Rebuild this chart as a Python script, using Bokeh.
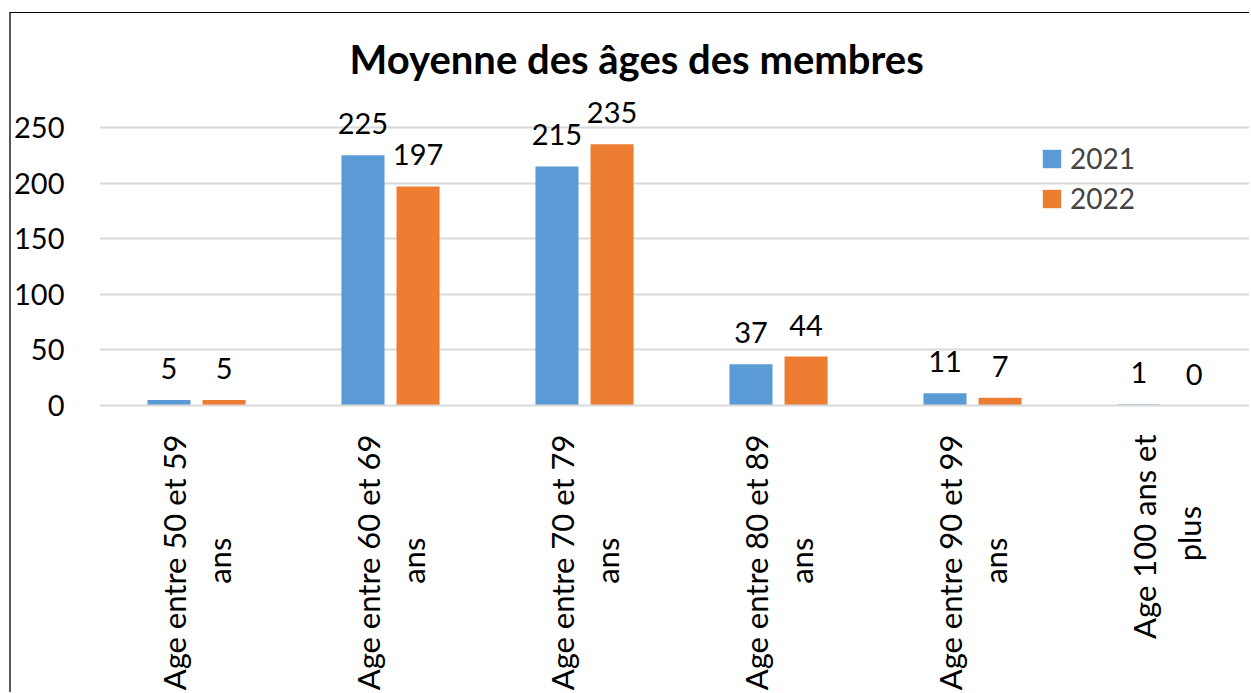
from bokeh.plotting import figure
from bokeh.models import (ColumnDataSource, FixedTicker, Range1d, LabelSet,
                          Legend, LegendItem)
from bokeh.core.properties import value
from bokeh.embed import file_html
from bokeh.resources import INLINE
from math import pi

# ---- data ----
categories = ["Age entre 50 et 59\nans", "Age entre 60 et 69\nans", "Age entre 70 et 79\nans",
              "Age entre 80 et 89\nans", "Age entre 90 et 99\nans", "Age 100 ans et\nplus"]
series_names = ["2021", "2022"]
values_2021 = [5, 225, 215, 37, 11, 1]
values_2022 = [5, 197, 235, 44, 7, 0]
y_ticks = [0, 50, 100, 150, 200, 250]
title_text = "Moyenne des âges des membres"

FONT = "Lato"
BLUE = "#5B9BD5"
ORANGE = "#ED7D31"
GRID = "#D9D9D9"

centers = [i + 0.5 for i in range(len(categories))]
off = 0.142
bw = 0.222

src21 = ColumnDataSource(dict(x=[c - off for c in centers], top=values_2021,
                              lab=[str(v) for v in values_2021]))
src22 = ColumnDataSource(dict(x=[c + off for c in centers], top=values_2022,
                              lab=[str(v) for v in values_2022]))

W, H = 1240, 680
p = figure(width=W, height=H, output_backend="svg", toolbar_location=None,
           x_range=Range1d(0, 5.938), y_range=Range1d(0, 279.7),
           min_border_left=88, min_border_right=0, min_border_top=81, min_border_bottom=288)
p.styles = {"border-left": "2px solid #595959", "border-top": "1px solid #000000",
            "margin-left": "9px", "margin-top": "12px"}
p.outline_line_color = None
p.background_fill_color = "white"
p.border_fill_color = "white"

r1 = p.vbar(x="x", top="top", width=bw, source=src21, color=BLUE, line_color=None)
r2 = p.vbar(x="x", top="top", width=bw, source=src22, color=ORANGE, line_color=None)

for s in (src21, src22):
    p.add_layout(LabelSet(x="x", y="top", text="lab", source=s, y_offset=21,
                          text_align="center", text_baseline="alphabetic",
                          text_font=value(FONT), text_font_size=value("29px"),
                          text_color=value("black")))

# category labels: second line padded so it sits centred under the first
pads = [13, 13, 13, 13, 13, 9]
def centred(label, n):
    first, second = label.split("\n")
    return first + "\n" + second + "\u00a0" * n

p.xaxis.ticker = FixedTicker(ticks=centers)
p.xaxis.major_label_overrides = {c: centred(lab, n) for c, lab, n in zip(centers, categories, pads)}
p.xaxis.major_label_orientation = pi / 2
p.xaxis.major_label_text_font = FONT
p.xaxis.major_label_text_font_size = "31px"
p.xaxis.major_label_text_color = "black"
p.xaxis.major_label_standoff = 23
p.xaxis.major_tick_line_color = None
p.xaxis.minor_tick_line_color = None
p.xaxis.axis_line_color = GRID
p.xaxis.axis_line_width = 2

p.yaxis.ticker = FixedTicker(ticks=y_ticks)
p.yaxis.major_label_text_font = FONT
p.yaxis.major_label_text_font_size = "29px"
p.yaxis.major_label_text_color = "black"
p.yaxis.major_label_standoff = 29
p.yaxis.major_tick_line_color = None
p.yaxis.minor_tick_line_color = None
p.yaxis.axis_line_color = None

p.xgrid.grid_line_color = None
p.ygrid.grid_line_color = GRID
p.ygrid.grid_line_width = 2

# title
p.title.text = title_text
p.title.align = "left"
p.title.offset = 250
p.title.text_font = FONT
p.title.text_font_style = "bold"
p.title.text_font_size = "40px"
p.title.text_color = "black"
p.title.standoff = 24

legend = Legend(items=[LegendItem(label=series_names[0], renderers=[r1]),
                       LegendItem(label=series_names[1], renderers=[r2])],
                location=(941, 190), padding=0, margin=0, spacing=6,
                glyph_width=23, glyph_height=23, label_standoff=7,
                label_text_font=FONT, label_text_font_size="28px",
                border_line_color=None, background_fill_alpha=0)
p.add_layout(legend)

open("out.html", "w").write(file_html(p, INLINE))
